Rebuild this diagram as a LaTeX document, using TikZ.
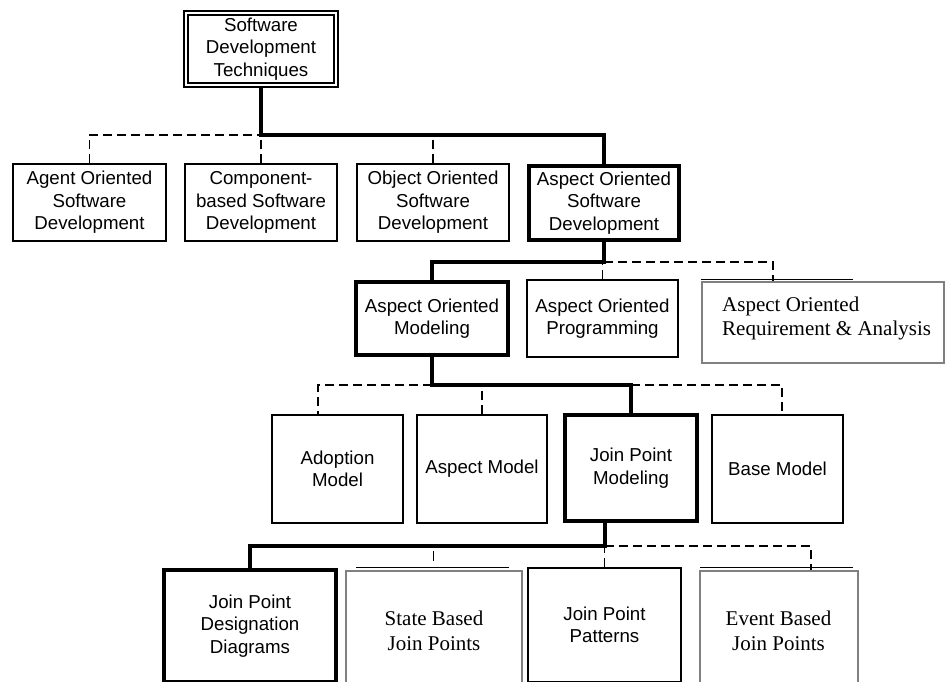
\documentclass[tikz,border=0pt]{standalone}
\usepackage{fontspec}
\setmainfont{Liberation Sans}
\newfontfamily\serifface{Liberation Serif}
\usetikzlibrary{calc}
\definecolor{bgray}{RGB}{128,128,128}
\begin{document}
\begin{tikzpicture}[x=1pt,y=-1pt,
  box/.style={draw, line width=1.2pt, inner sep=0pt, align=center,
    font=\fontsize{18.7}{22.5}\selectfont},
  boldbox/.style={box, line width=4pt},
  topbox/.style={box, double, line width=1.6pt, double distance=2pt},
  graybox/.style={draw=bgray, line width=2pt, inner sep=0pt, align=center,
    font=\serifface\fontsize{21}{24.5}\selectfont},
  graylabel/.style={inner sep=0pt, align=left, anchor=west,
    font=\serifface\fontsize{21}{24.5}\selectfont},
  thickc/.style={line width=4pt},
  dashc/.style={line width=1.2pt, dash pattern=on 9pt off 5pt},
  stub/.style={line width=1pt},
]
\useasboundingbox (0,0) rectangle (947,681);
\clip (0,0) rectangle (947,681);

% bus levels and connector positions
\coordinate (b1) at (0,135);
\coordinate (b2) at (0,262);
\coordinate (b3) at (0,385);
\coordinate (b4) at (0,546);
\coordinate (caora) at (773,0);
\coordinate (cadop) at (318,0);
\coordinate (cbase) at (782,0);
\coordinate (cjpm) at (605,0);
\coordinate (cevt) at (811,0);

% row 1
\node[topbox, minimum width=150pt, minimum height=72pt] (top) at (261,49)
  {Software\\Development\\Techniques};

% row 2
\node[box, minimum width=153pt, minimum height=77pt] (agent) at (89.5,202.5)
  {Agent Oriented\\Software\\Development};
\node[box, minimum width=152pt, minimum height=77pt] (comp) at (261,202.5)
  {Component-\\based Software\\Development};
\node[box, minimum width=152pt, minimum height=77pt] (obj) at (433,202.5)
  {Object Oriented\\Software\\Development};
\node[boldbox, minimum width=150pt, minimum height=74pt] (asd) at (604,203)
  {Aspect Oriented\\Software\\Development};

% row 3
\node[boldbox, minimum width=152pt, minimum height=73pt] (aom) at (432,318.5)
  {Aspect Oriented\\Modeling};
\node[box, minimum width=151pt, minimum height=77pt] (aop) at (602.5,318.5)
  {Aspect Oriented\\Programming};
\node[graybox, minimum width=242pt, minimum height=81pt] (aora) at (823,322.5) {};
\node[graylabel] (aoral) at (722,318.5) {Aspect Oriented\\Requirement \& Analysis};
\draw[stub] (701,279) -- (853,279);

% row 4
\node[box, minimum width=131pt, minimum height=108pt] (adop) at (337.5,469)
  {Adoption\\Model};
\node[box, minimum width=130pt, minimum height=108pt] (aspm) at (482,469)
  {Aspect Model};
\node[boldbox, minimum width=132pt, minimum height=106pt] (jpm) at (631,468)
  {Join Point\\Modeling};
\node[box, minimum width=131pt, minimum height=108pt] (base) at (777.5,469)
  {Base Model};

% row 5
\node[boldbox, minimum width=172pt, minimum height=112pt] (jpdd) at (250,626)
  {Join Point\\Designation\\Diagrams};
\node[graybox, minimum width=176pt, minimum height=120pt] (stb) at (434,631)
  {State Based\\Join Points};
\node[box, minimum width=153pt, minimum height=114pt] (jpp) at (604.5,625)
  {Join Point\\Patterns};
\node[graybox, minimum width=158pt, minimum height=120pt] (evt) at (778.5,631)
  {Event Based\\Join Points};
\draw[stub] (356,567) -- (509,567);
\draw[stub] (700,567) -- (853,567);

% connectors row 1 -> row 2
\draw[dashc] (agent.north) |- (top.south |- b1);
\draw[dashc] (comp.north) -- (comp.north |- b1);
\draw[dashc] (obj.north) -- (obj.north |- b1);
\draw[thickc] (top.south) -- (top.south |- b1) -| (asd.north);

% row 2 -> row 3
\draw[dashc] (asd.south |- b2) -| (aora.north -| caora);
\draw[dashc] (aop.north) -- (aop.north |- b2);
\draw[thickc] (asd.south) -- (asd.south |- b2) -| (aom.north);

% row 3 -> row 4
\draw[dashc] (aom.south |- b3) -| (adop.north -| cadop);
\draw[dashc] (aspm.north) -- (aspm.north |- b3);
\draw[dashc] (jpm.north |- b3) -| (base.north -| cbase);
\draw[thickc] (aom.south) -- (aom.south |- b3) -| (jpm.north);

% row 4 -> row 5
\coordinate (sa) at ($(stb.north)+(-1,-19)$);
\coordinate (sb) at ($(stb.north)+(-1,-9)$);
\draw[stub] (sa) -- (sb);
\draw[dashc] (cjpm |- b4) -| (evt.north -| cevt);
\draw[dashc] (jpp.north) -- (jpp.north |- b4);
\draw[thickc] (jpm.south -| cjpm) -- (cjpm |- b4) -| (jpdd.north);
\end{tikzpicture}
\end{document}
